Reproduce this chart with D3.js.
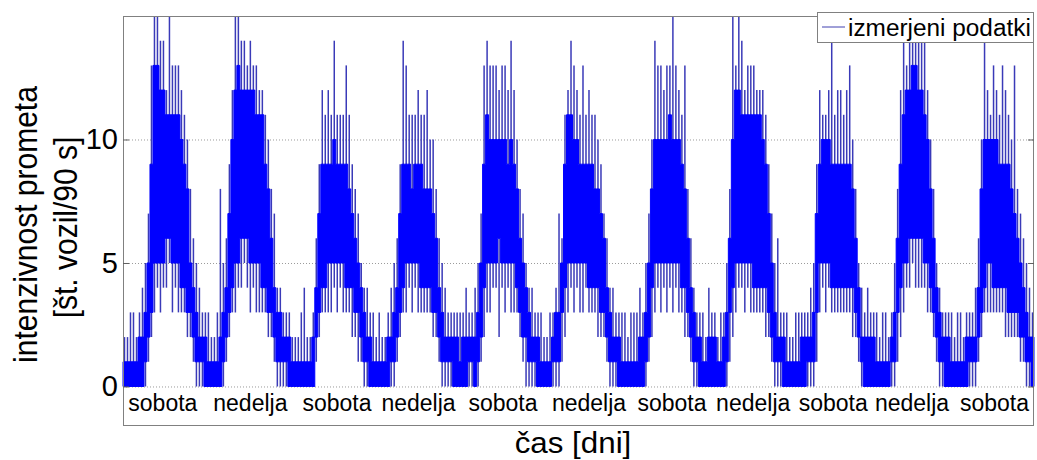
<!DOCTYPE html>
<html>
<head>
<meta charset="utf-8">
<script src="https://cdn.jsdelivr.net/npm/d3@7/dist/d3.min.js"></script>
<style>
  html, body { margin: 0; padding: 0; background: #fff; }
  svg { display: block; font-family: "Liberation Sans", Arial, sans-serif; }
</style>
</head>
<body>
<div id="chart"></div>
<script>
// ---- data (per ~3px time bin, values in vehicles / 90 s) ----
const coreLo = [
0,0,0,0,0,0,0,1,2,3, 5,5,5,5,6,6,5,5,5,4, 4,3,3,2,1,1,1,0,0,0, 0,0,0,1,2,3,4,5,5,6,
6,6,5,5,5,5,4,4,3,3, 2,1,1,1,1,0,0,0,0,0, 0,0,0,0,2,3,4,4,5,5, 5,5,5,5,4,4,4,3,3,2,
1,1,0,0,0,0,0,0,0,1, 1,2,3,4,5,5,5,5,5,4, 4,4,4,3,3,2,1,1,1,1, 0,0,0,0,0,1,1,0,1,2,
4,5,5,5,5,6,5,5,5,5, 5,4,3,2,2,1,1,1,0,0, 0,0,0,1,1,1,3,4,5,5, 5,5,5,5,5,4,4,4,4,3,
3,2,1,1,1,0,0,0,0,0, 0,0,0,0,1,2,4,5,5,5, 5,5,5,5,5,5,4,4,3,2, 1,1,0,0,0,0,0,0,0,0,
0,1,3,4,5,5,5,5,5,5, 4,4,4,4,4,3,2,1,1,1, 0,0,0,0,0,0,0,0,1,1, 1,3,5,5,5,5,4,4,4,4,
4,4,4,4,3,2,1,0,0,0, 0,0,0,0,0,0,1,1,3,4, 5,5,6,6,6,6,6,5,5,4, 3,2,1,1,0,0,0,0,0,0,
0,0,1,1,1,2,3,4,5,5, 4,4,4,4,4,3,3,3,3,2, 2,1,1,0
];
const coreHi = [
1,1,1,1,1,2,2,3,5,9, 13,13,12,12,11,11,11,11,11,10, 9,8,5,4,3,2,2,2,1,1, 1,1,2,3,4,7,10,12,13,12,
12,12,12,12,11,11,11,9,8,6, 4,3,3,2,2,2,1,1,1,1, 1,1,1,2,4,7,9,9,9,9, 10,9,9,9,9,8,7,6,5,4,
3,2,2,1,1,1,1,1,2,2, 3,4,7,9,9,9,8,9,9,9, 8,8,8,7,6,4,3,2,2,2, 2,2,1,2,2,2,2,2,3,5,
9,11,10,10,10,10,10,10,9,10, 9,8,6,5,4,3,2,2,2,1, 1,1,1,2,3,3,5,9,11,11, 10,10,9,9,9,9,9,8,8,7,
6,4,3,2,2,2,1,1,1,1, 1,1,2,2,3,5,8,10,10,10, 10,10,11,10,10,10,9,8,6,4, 3,2,2,1,1,2,2,2,1,1,
2,3,6,10,12,12,11,11,11,11, 11,11,11,10,9,7,5,3,2,2, 2,1,1,1,1,1,2,2,2,2, 3,7,9,10,10,10,9,9,9,9,
9,9,9,8,6,4,2,2,2,2, 2,1,1,1,1,1,2,3,6,9, 11,12,12,13,13,12,12,11,10,8, 6,4,3,2,2,2,1,1,1,1,
1,2,2,2,2,4,8,10,10,10, 10,10,9,9,9,9,8,7,6,5, 4,3,2,2
];
const peakHi = [
2,2,3,3,2,3,4,5,7,13, 15,15,14,14,12,15,13,13,13,12, 11,10,8,6,5,4,3,3,3,2, 2,3,8,5,6,9,12,15,15,14,
14,13,14,13,13,12,12,11,10,8, 7,4,4,3,3,3,2,2,2,3, 4,2,2,3,6,9,12,11,12,11, 14,11,11,11,13,11,9,8,7,5,
4,4,3,3,2,3,2,2,3,4, 5,6,9,14,13,11,11,11,12,11, 11,12,10,10,8,6,5,4,3,3, 3,3,3,3,4,3,3,4,5,7,
13,14,13,13,13,12,13,13,12,14, 12,10,8,7,5,4,4,3,3,3, 2,2,3,3,4,7,6,11,12,14, 13,12,11,13,11,12,11,11,10,9,
7,6,4,4,3,3,3,3,2,3, 3,3,4,3,5,7,10,14,13,13, 12,13,13,15,13,12,11,13,8,6, 4,3,3,3,2,4,3,3,2,3,
3,5,8,15,13,15,14,12,13,13, 13,12,12,12,11,9,7,5,6,3, 3,3,2,2,3,3,3,3,3,4, 5,9,12,11,11,12,14,11,12,12,
11,12,13,10,8,5,4,3,4,3, 3,3,2,3,3,2,3,5,8,12, 14,13,14,15,15,15,14,15,12,10, 8,5,4,3,3,3,3,2,3,3,
2,3,3,3,4,6,10,14,12,11, 13,12,11,13,12,11,10,13,8,7, 6,5,4,3
];
const peakLo = [
0,0,0,0,0,0,0,0,1,2, 3,4,3,4,4,5,3,4,3,3, 3,2,2,1,0,0,0,0,0,0, 0,0,0,0,1,2,3,3,4,4,
5,4,3,4,3,3,3,3,2,2, 1,0,0,0,0,0,0,0,0,0, 0,0,0,0,1,2,3,3,3,3, 4,3,4,3,3,3,2,2,1,1,
0,0,0,0,0,0,0,0,0,0, 0,1,2,3,3,4,3,4,3,3, 3,3,3,2,2,1,0,0,0,0, 0,0,0,0,0,0,0,0,0,1,
2,3,3,4,4,2,4,3,4,3, 3,3,2,1,0,0,0,0,0,0, 0,0,0,0,0,0,1,2,3,4, 3,4,3,3,4,3,3,3,2,2,
2,1,0,0,0,0,0,0,0,0, 0,0,0,0,0,1,2,3,4,3, 4,3,4,3,4,3,3,2,2,1, 0,0,0,0,0,0,0,0,0,0,
0,0,1,2,3,4,4,3,4,3, 3,3,3,3,2,2,1,0,0,0, 0,0,0,0,0,0,0,0,0,0, 0,1,3,4,3,4,3,3,3,3,
3,3,3,2,2,1,0,0,0,0, 0,0,0,0,0,0,0,0,1,2, 3,4,4,5,4,4,4,4,3,3, 2,1,0,0,0,0,0,0,0,0,
0,0,0,0,0,1,2,3,3,3, 3,3,3,3,2,2,2,2,2,1, 1,0,0,0
];
const dayNames = ["sobota","nedelja","sobota","nedelja","sobota","nedelja","sobota","nedelja","sobota","nedelja","sobota"];
const dayPos = [13.3, 42.5, 71.4, 98.6, 126.8, 155.5, 183.2, 210.3, 237.0, 263.3, 290.8];
const yTicks = [0, 5, 10];
const legendLabel = "izmerjeni podatki";
const xLabel = "čas [dni]";
const yLabel1 = "intenzivnost prometa";
const yLabel2 = "[št. vozil/90 s]";

// ---- layout ----
const W = 1037, H = 460;
const pL = 123, pR = 1034, pT = 16, pB = 426;
const nBins = coreLo.length;

const svg = d3.select("#chart").append("svg").attr("width", W).attr("height", H);

const x = d3.scaleLinear().domain([0, nBins]).range([pL, pR]);
const y = d3.scaleLinear().domain([-1.6, 15]).range([pB, pT]);

// grid
svg.append("g").attr("transform", `translate(${pL},0)`)
  .call(d3.axisLeft(y).tickValues(yTicks).tickSize(-(pR - pL)).tickFormat(""))
  .call(g => g.select(".domain").remove())
  .call(g => g.selectAll("line").attr("stroke", "#9a9a9a").attr("stroke-dasharray", "1,2"));

const bins = coreLo.map((d, i) => ({ i, cl: d, ch: coreHi[i], lo: peakLo[i], hi: peakHi[i] }));
const ext = bins.concat([{ ...bins[bins.length - 1], i: nBins }]);

// spikes (thin outliers)
svg.append("g").selectAll("line").data(bins).join("line")
  .attr("x1", d => x(d.i + 0.5)).attr("x2", d => x(d.i + 0.5))
  .attr("y1", d => y(d.lo)).attr("y2", d => y(d.hi))
  .attr("stroke", "#3a3ab8").attr("stroke-width", 1.5);

// dense core
svg.append("path").datum(ext)
  .attr("d", d3.area().x(d => x(d.i)).y0(d => y(d.cl)).y1(d => y(d.ch)).curve(d3.curveStepAfter))
  .attr("fill", "#0000ff").attr("stroke", "#0000ff").attr("stroke-width", 1)
  .attr("stroke-linejoin", "miter");

// box
svg.append("rect").attr("x", pL + 0.5).attr("y", pT + 0.5)
  .attr("width", pR - pL - 1).attr("height", pB - pT - 1)
  .attr("fill", "none").attr("stroke", "#808080");

// y axis ticks + labels
const ya = svg.append("g").attr("transform", `translate(${pL},0)`)
  .call(d3.axisLeft(y).tickValues(yTicks).tickSizeInner(-6).tickSizeOuter(0).tickPadding(5));
ya.select(".domain").remove();
ya.selectAll("line").attr("stroke", "#606060");
ya.selectAll("text").attr("font-size", 29).attr("fill", "#000").attr("font-family", "Liberation Sans, Arial, sans-serif");

const yr = svg.append("g").attr("transform", `translate(${pR},0)`)
  .call(d3.axisRight(y).tickValues(yTicks).tickSizeInner(-6).tickSizeOuter(0).tickFormat(""));
yr.select(".domain").remove();
yr.selectAll("line").attr("stroke", "#606060");

// day labels
svg.append("g").selectAll("text").data(dayNames).join("text")
  .attr("x", (d, i) => x(dayPos[i])).attr("y", 411)
  .attr("text-anchor", "middle").attr("font-size", 23).attr("fill", "#000")
  .text(d => d);

// x label
svg.append("text").attr("transform", `translate(573,453) scale(1.08,1)`)
  .attr("text-anchor", "middle").attr("font-size", 29).attr("fill", "#000").text(xLabel);

// y labels (rotated)
svg.append("text").attr("transform", `translate(37,224.5) scale(1.08,1) rotate(-90)`)
  .attr("text-anchor", "middle").attr("font-size", 30).attr("fill", "#000").text(yLabel1);
svg.append("text").attr("transform", `translate(77,227.5) scale(1.08,1) rotate(-90)`)
  .attr("text-anchor", "middle").attr("font-size", 30).attr("fill", "#000").text(yLabel2);

// legend
const lg = svg.append("g");
lg.append("rect").attr("x", 817.5).attr("y", 12.5).attr("width", 216).attr("height", 30)
  .attr("fill", "#fff").attr("stroke", "#808080");
lg.append("line").attr("x1", 822).attr("x2", 845).attr("y1", 27).attr("y2", 27)
  .attr("stroke", "#4040b0").attr("stroke-width", 1);
lg.append("text").attr("transform", `translate(848,35.5) scale(1.06,1)`)
  .attr("font-size", 23).attr("fill", "#000").text(legendLabel);
</script>
</body>
</html>
